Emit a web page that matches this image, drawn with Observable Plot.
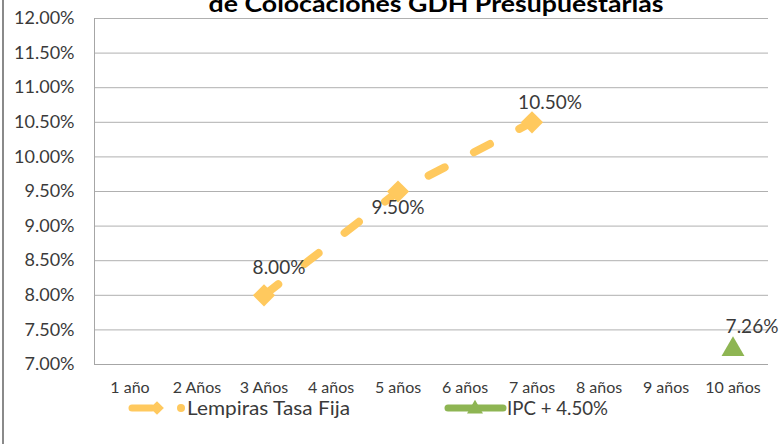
<!DOCTYPE html>
<html>
<head>
<meta charset="utf-8">
<script src="https://cdn.jsdelivr.net/npm/d3@7"></script>
<script src="https://cdn.jsdelivr.net/npm/@observablehq/plot@0.6"></script>
<style>
  html, body { margin: 0; padding: 0; background: #fff; }
  #wrap { position: relative; width: 781px; height: 444px; overflow: hidden; background: #fff; font-family: Lato, "Noto Sans", sans-serif; }
  #border { position: absolute; left: 2px; top: 0; width: 2px; height: 444px; background: #8a8a8a; }
  #chart { position: absolute; left: 0; top: 0; }
  #overlay { position: absolute; left: 0; top: 0; pointer-events: none; }
</style>
</head>
<body>
<div id="wrap">
  <div id="chart"></div>
  <svg id="overlay" width="781" height="444"></svg>
  <div id="border"></div>
</div>
<script>
// ---- data ----
const categories = ["1 año", "2 Años", "3 Años", "4 años", "5 años", "6 años", "7 años", "8 años", "9 años", "10 años"];
const lempirasTasaFija = [null, null, 8.00, null, 9.50, null, 10.50, null, null, null];
const ipcMas450 = [null, null, null, null, null, null, null, null, null, 7.26];
const yTicks = [7.0, 7.5, 8.0, 8.5, 9.0, 9.5, 10.0, 10.5, 11.0, 11.5, 12.0];
const seriesNames = ["Lempiras Tasa Fija", "IPC + 4.50%"];
const titleText = "de Colocaciones GDH Presupuestarias";

const orange = "#FFC95E";
const green = "#8EB553";
const textColor = "#3a3a3a";

const lemp = categories.map((c, i) => ({cat: c, v: lempirasTasaFija[i]})).filter(d => d.v != null);
const ipc = categories.map((c, i) => ({cat: c, v: ipcMas450[i]})).filter(d => d.v != null);
const fmt = v => v.toFixed(2) + "%";

// label offsets (style): relative to marker
const lempLabelOffsets = [[15, -27], [0, 16], [18, -19]];
const ipcLabelOffsets = [[19, -20]];

const labelMarks = [];
lemp.forEach((d, i) => labelMarks.push(Plot.text([d], {
  x: "cat", y: "v", text: d => fmt(d.v), dx: lempLabelOffsets[i][0], dy: lempLabelOffsets[i][1],
  fill: textColor, fontSize: 19, textAnchor: "middle", lineAnchor: "middle"
})));
ipc.forEach((d, i) => labelMarks.push(Plot.text([d], {
  x: "cat", y: "v", text: d => fmt(d.v), dx: ipcLabelOffsets[i][0], dy: ipcLabelOffsets[i][1],
  fill: textColor, fontSize: 19, textAnchor: "middle", lineAnchor: "middle"
})));

const plot = Plot.plot({
  width: 781,
  height: 444,
  marginLeft: 94,
  marginRight: 13,
  marginTop: 18,
  marginBottom: 80,
  style: {fontFamily: "Lato, 'Noto Sans', sans-serif", background: "transparent", color: textColor},
  x: {type: "band", domain: categories, padding: 0, label: null},
  y: {domain: [7, 12], label: null},
  marks: [
    Plot.gridY(yTicks, {stroke: "#b0b0b0", strokeOpacity: 1, strokeWidth: 1}),
    Plot.frame({anchor: "left", stroke: "#a6a6a6"}),
    Plot.ruleY([7], {stroke: "#a6a6a6"}),
    Plot.axisY(yTicks, {tickSize: 0, tickPadding: 20, tickFormat: fmt, fontSize: 18, fill: textColor, label: null}),
    Plot.axisX({tickSize: 0, tickPadding: 17, fontSize: 16, fill: textColor, label: null}),
    Plot.line(lemp, {x: "cat", y: "v", stroke: orange, strokeWidth: 8, strokeDasharray: "18,33", strokeLinecap: "round"}),
    Plot.dot(lemp, {x: "cat", y: "v", symbol: "diamond2", r: 10, fill: orange, stroke: null}),
    Plot.dot(ipc, {x: "cat", y: "v", symbol: "triangle", r: 8.5, fill: green, stroke: null, dy: 3}),
    ...labelMarks
  ]
});
document.getElementById("chart").appendChild(plot);

// ---- title & legend overlay ----
const ov = d3.select("#overlay");
ov.append("text").attr("x", 436).attr("y", 12).attr("text-anchor", "middle")
  .attr("font-family", "Lato, 'Noto Sans', sans-serif").attr("font-weight", "bold").attr("font-size", 23)
  .attr("fill", "#000").attr("textLength", 455).attr("lengthAdjust", "spacingAndGlyphs").text(titleText);

const ly = 408;
// orange legend
ov.append("line").attr("x1", 132).attr("x2", 152).attr("y1", ly).attr("y2", ly)
  .attr("stroke", orange).attr("stroke-width", 7).attr("stroke-linecap", "round");
ov.append("path").attr("d", d3.symbol(d3.symbolDiamond2, 120)()).attr("transform", `translate(157,${ly})`).attr("fill", orange);
ov.append("circle").attr("cx", 181).attr("cy", ly).attr("r", 4).attr("fill", orange);
ov.append("text").attr("x", 187).attr("y", ly).attr("dy", "0.35em")
  .attr("font-family", "Lato, 'Noto Sans', sans-serif").attr("font-size", 20).attr("fill", textColor)
  .attr("textLength", 163).attr("lengthAdjust", "spacingAndGlyphs")
  .text(seriesNames[0]);
// green legend
ov.append("line").attr("x1", 448).attr("x2", 503).attr("y1", ly).attr("y2", ly)
  .attr("stroke", green).attr("stroke-width", 7).attr("stroke-linecap", "round");
ov.append("path").attr("d", d3.symbol(d3.symbolTriangle, 110)()).attr("transform", `translate(475,${ly + 1})`).attr("fill", green);
ov.append("text").attr("x", 507).attr("y", ly).attr("dy", "0.35em")
  .attr("font-family", "Lato, 'Noto Sans', sans-serif").attr("font-size", 20).attr("fill", textColor)
  .attr("textLength", 101).attr("lengthAdjust", "spacingAndGlyphs")
  .text(seriesNames[1]);
</script>
</body>
</html>
